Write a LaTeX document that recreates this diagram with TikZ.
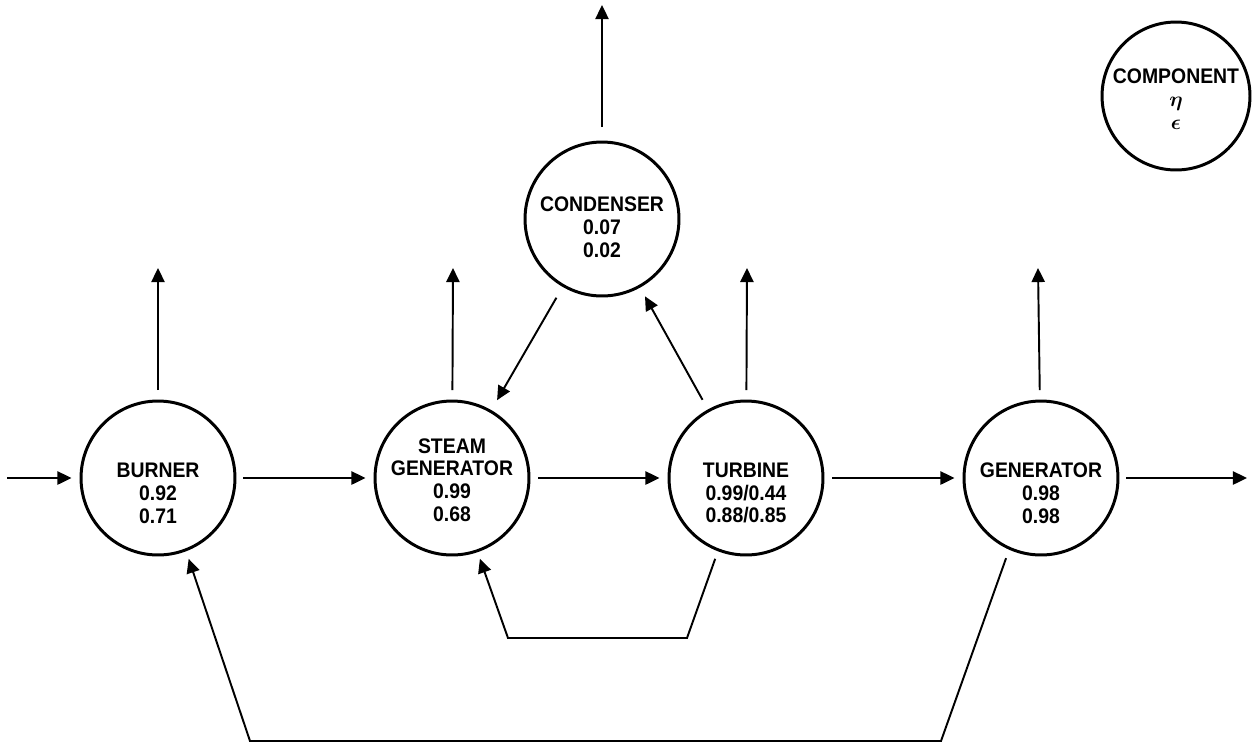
\documentclass[tikz,border=0pt]{standalone}
\usepackage{amsmath}
\usepackage{fontspec}
\setmainfont{Liberation Sans}[FakeStretch=0.92]
\usepackage{tikz}
\usetikzlibrary{arrows.meta, positioning, calc}

\begin{document}
\begin{tikzpicture}[
  x=0.02cm, y=-0.02cm,
  unit/.style={circle, draw, line width=1.7pt, minimum size=3.08cm, inner sep=0pt},
  term/.style={font=\fontsize{12}{13}\selectfont\bfseries, align=center, inner sep=0pt},
  arrow/.style={-{Triangle[length=8pt, width=7.5pt]}, line width=1.1pt}
]
  \useasboundingbox (0,0) rectangle (1254,745);

  \node[unit] (burner) at (158,478) {};
  \node[unit] (steamgen) at (452,478) {};
  \node[unit] (turbine) at (746,478) {};
  \node[unit] (generator) at (1041,478) {};
  \node[unit] (condenser) at (602,219) {};
  \node[unit, minimum size=2.96cm] (legend) at (1176,96) {};

  \node[term] (burner-t) at ([yshift=-0.3cm]burner) {BURNER\\0.92\\0.71};
  \node[term] (steamgen-t) at ([yshift=-0.04cm]steamgen) {STEAM\\GENERATOR\\0.99\\0.68};
  \node[term] (turbine-t) at ([yshift=-0.3cm]turbine) {TURBINE\\0.99/0.44\\0.88/0.85};
  \node[term] (generator-t) at ([yshift=-0.3cm]generator) {GENERATOR\\0.98\\0.98};
  \node[term] (condenser-t) at ([yshift=-0.16cm]condenser) {CONDENSER\\0.07\\0.02};
  \node[term] (legend-t) at ([yshift=-0.06cm]legend)
    {COMPONENT\\$\boldsymbol{\eta}$\\$\boldsymbol{\epsilon}$};

  \coordinate (fuel) at (7,478);
  \coordinate (power) at (1247,478);
  \coordinate (burner-up) at (158,268);
  \coordinate (steamgen-up) at (453,268);
  \coordinate (turbine-up) at (747,268);
  \coordinate (generator-up) at (1038,268);
  \coordinate (condenser-up) at (602,5);
  \coordinate (t-low) at (687,638);
  \coordinate (s-low) at (508,638);
  \coordinate (g-low) at (941,741);
  \coordinate (b-low) at (250,741);

  \draw[arrow, shorten >=0.16cm] (fuel) -- (burner);
  \draw[arrow, shorten <=0.14cm, shorten >=0.16cm] (burner) -- (steamgen);
  \draw[arrow, shorten <=0.16cm, shorten >=0.16cm] (steamgen) -- (turbine);
  \draw[arrow, shorten <=0.16cm, shorten >=0.16cm] (turbine) -- (generator);
  \draw[arrow, shorten <=0.14cm] (generator) -- (power);

  \draw[arrow, shorten <=0.19cm] (burner) -- (burner-up);
  \draw[arrow, shorten <=0.19cm] (steamgen) -- (steamgen-up);
  \draw[arrow, shorten <=0.19cm] (turbine) -- (turbine-up);
  \draw[arrow, shorten <=0.19cm] (generator) -- (generator-up);
  \draw[arrow, shorten <=0.27cm] (condenser) -- (condenser-up);

  \draw[arrow, shorten <=0.25cm, shorten >=0.23cm] (condenser) -- (steamgen);
  \draw[arrow, shorten <=0.22cm, shorten >=0.2cm] (turbine) -- (condenser);

  \draw[arrow, shorten <=0.16cm, shorten >=0.14cm]
    (turbine.249) -- (t-low) -- (s-low) -- (steamgen.289);
  \draw[arrow, shorten <=0.18cm, shorten >=0.16cm]
    (generator.246) -- (g-low) -- (b-low) -- (burner.291);
\end{tikzpicture}
\end{document}
